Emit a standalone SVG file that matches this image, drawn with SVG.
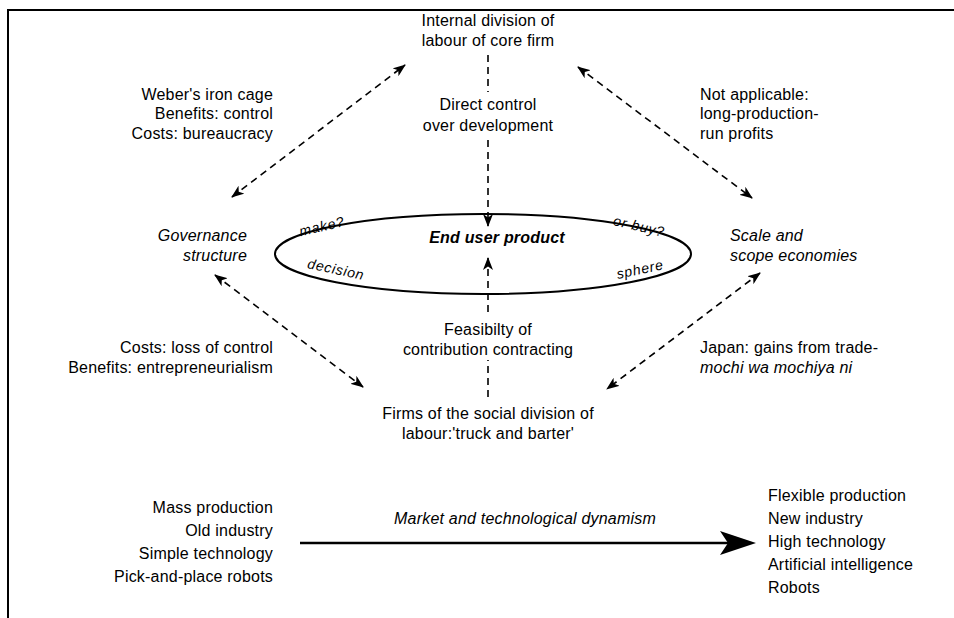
<svg xmlns="http://www.w3.org/2000/svg" width="954" height="618" viewBox="0 0 954 618">
<defs>
<style>
text{font-family:"Liberation Sans",Arial,sans-serif;font-size:16px;fill:#000;letter-spacing:0.2px}
.c{text-anchor:middle}.r{text-anchor:end}.i{font-style:italic}
.b{font-weight:bold}
.s{font-size:14px;font-style:italic;letter-spacing:0.8px}
.d{fill:none;stroke:#000;stroke-width:1.6;stroke-dasharray:7,5}
</style>
<marker id="ah" viewBox="0 0 13 10" refX="12" refY="5" markerWidth="13" markerHeight="10" markerUnits="userSpaceOnUse" orient="auto-start-reverse">
<path d="M0,0 L13,5 L0,10 L3.5,5 z" fill="#000"/>
</marker>
</defs>
<rect width="954" height="618" fill="#fff"/>
<path d="M8,618 V10 H954" fill="none" stroke="#000" stroke-width="2"/>

<g id="internal"><text class="c" x="488" y="26">Internal division of</text><text class="c" x="488" y="46">labour of core firm</text></g>
<g id="direct"><text class="c" x="488" y="110">Direct control</text><text class="c" x="488" y="131">over development</text></g>
<g id="weber"><text class="r" x="273" y="100">Weber's iron cage</text><text class="r" x="273" y="119">Benefits: control</text><text class="r" x="273" y="139">Costs: bureaucracy</text></g>
<g id="notapp"><text x="700" y="100">Not applicable:</text><text x="700" y="119">long-production-</text><text x="700" y="139">run profits</text></g>
<g id="governance"><text class="r i" x="247" y="241">Governance</text><text class="r i" x="247" y="261">structure</text></g>
<g id="scale"><text class="i" x="730" y="241">Scale and</text><text class="i" x="730" y="261">scope economies</text></g>
<g id="product">
<ellipse cx="483" cy="254" rx="208" ry="40" fill="none" stroke="#000" stroke-width="2"/>
<text class="c b i" x="497" y="243">End user product</text>
<text class="s" transform="translate(323,231) rotate(-13)" text-anchor="middle">make?</text>
<text class="s" transform="translate(638,231) rotate(13)" text-anchor="middle">or buy?</text>
<text class="s" transform="translate(335,274) rotate(12)" text-anchor="middle">decision</text>
<text class="s" transform="translate(641,274) rotate(-12)" text-anchor="middle">sphere</text>
</g>
<g id="costs"><text class="r" x="273" y="353">Costs: loss of control</text><text class="r" x="273" y="373">Benefits: entrepreneurialism</text></g>
<g id="japan"><text x="700" y="353">Japan: gains from trade-</text><text class="i" x="700" y="373">mochi wa mochiya ni</text></g>
<g id="feasib"><text class="c" x="488" y="335">Feasibilty of</text><text class="c" x="488" y="355">contribution contracting</text></g>
<g id="firms"><text class="c" x="488" y="419">Firms of the social division of</text><text class="c" x="488" y="439">labour:'truck and barter'</text></g>

<g id="old"><text class="r" x="273" y="513">Mass production</text><text class="r" x="273" y="536">Old industry</text><text class="r" x="273" y="559">Simple technology</text><text class="r" x="273" y="582">Pick-and-place robots</text></g>
<g id="new"><text x="768" y="501">Flexible production</text><text x="768" y="524">New industry</text><text x="768" y="547">High technology</text><text x="768" y="570">Artificial intelligence</text><text x="768" y="593">Robots</text></g>
<g id="dyn"><text class="c i" x="525" y="524">Market and technological dynamism</text></g>

<g id="connectors">
<line class="d" x1="488" y1="55" x2="488" y2="92"/>
<line class="d" x1="488" y1="140" x2="488" y2="226" marker-end="url(#ah)"/>
<line class="d" x1="488" y1="397" x2="488" y2="360"/>
<line class="d" x1="488" y1="312" x2="488" y2="258" marker-end="url(#ah)"/>
<line class="d" x1="232" y1="197" x2="405" y2="65" marker-start="url(#ah)" marker-end="url(#ah)"/>
<line class="d" x1="578" y1="67" x2="752" y2="198" marker-start="url(#ah)" marker-end="url(#ah)"/>
<line class="d" x1="215" y1="275" x2="363" y2="387" marker-start="url(#ah)" marker-end="url(#ah)"/>
<line class="d" x1="760" y1="273" x2="607" y2="389" marker-start="url(#ah)" marker-end="url(#ah)"/>
<line x1="300" y1="543" x2="732" y2="543" stroke="#000" stroke-width="2.5"/>
<path d="M756,543 L720,531 L728,543 L720,555 z" fill="#000"/>
</g>
</svg>
